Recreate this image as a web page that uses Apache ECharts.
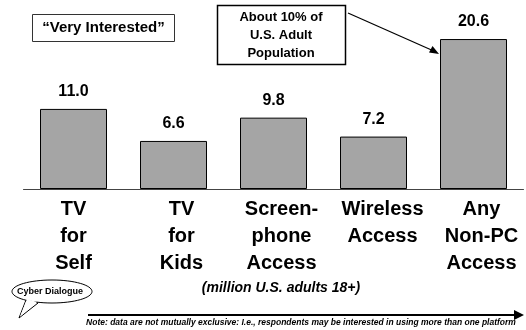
<!DOCTYPE html>
<html>
<head>
<meta charset="utf-8">
<script src="https://cdn.jsdelivr.net/npm/echarts@6/dist/echarts.min.js"></script>
<style>
html,body{margin:0;padding:0;background:#fff;}
#chart{width:526px;height:330px;}
</style>
</head>
<body>
<div id="chart"></div>
<script>
const categories = ['TV\nfor\nSelf', 'TV\nfor\nKids', 'Screen-\nphone\nAccess', 'Wireless\nAccess', 'Any\nNon-PC\nAccess'];
const values = [11.0, 6.6, 9.8, 7.2, 20.6];
const boxLabel = '\u201CVery Interested\u201D';
const calloutLabel = 'About 10% of\nU.S. Adult\nPopulation';
const unitLabel = '(million U.S. adults 18+)';
const noteLabel = 'Note: data are not mutually exclusive: I.e., respondents may be interested in using more than one platform';
const brandLabel = 'Cyber Dialogue';

const FONT = 'Arial, "Liberation Sans", Helvetica, sans-serif';
const labelShift = [0, 8, 8, 9, 8];
const chart = echarts.init(document.getElementById('chart'), null, {renderer: 'canvas'});

chart.setOption({
  animation: false,
  backgroundColor: '#ffffff',
  grid: {left: 23.5, right: 2.5, top: 7, bottom: 141, containLabel: false},
  xAxis: {
    type: 'category',
    data: categories.map((c, i) => ({value: c, textStyle: {padding: [0, 0, 0, labelShift[i] * 2]}})),
    axisLine: {show: true, lineStyle: {color: '#444', width: 1}},
    axisTick: {show: false},
    axisLabel: {
      color: '#000', fontFamily: FONT, fontWeight: 'bold', fontSize: 20,
      lineHeight: 27, margin: 7, interval: 0, verticalAlign: 'top'
    },
    splitLine: {show: false}
  },
  yAxis: {
    type: 'value', min: 0, max: 25, show: false, splitLine: {show: false}
  },
  series: [{
    type: 'bar',
    data: values,
    barWidth: 67,
    itemStyle: {color: '#a5a5a5', borderColor: '#000', borderWidth: 1},
    label: {
      show: true, position: 'top', distance: 9,
      formatter: p => p.value.toFixed(1),
      color: '#000', fontFamily: FONT, fontWeight: 'bold', fontSize: 16
    }
  }],
  graphic: [
    {type: 'rect', shape: {x: 32.5, y: 14.5, width: 142, height: 27}, style: {fill: '#fff', stroke: '#333', lineWidth: 1}},
    {type: 'text', x: 103.5, y: 28, style: {text: boxLabel, fill: '#000', font: 'bold 15px ' + FONT, align: 'center', verticalAlign: 'middle'}},
    {type: 'rect', shape: {x: 217.5, y: 5.5, width: 128, height: 59}, style: {fill: '#fff', stroke: '#000', lineWidth: 1.5}},
    {type: 'text', x: 281, y: 35, style: {text: calloutLabel, fill: '#000', font: 'bold 13px ' + FONT, align: 'center', verticalAlign: 'middle', lineHeight: 18}},
    {type: 'line', shape: {x1: 348, y1: 13, x2: 436, y2: 52}, style: {stroke: '#000', lineWidth: 1.2}},
    {type: 'polygon', shape: {points: [[439, 54], [429, 52.5], [432.5, 46]]}, style: {fill: '#000'}},
    {type: 'text', x: 281, y: 288, style: {text: unitLabel, fill: '#000', font: 'italic bold 14px ' + FONT, align: 'center', verticalAlign: 'middle'}},
    {type: 'line', shape: {x1: 88, y1: 315, x2: 516, y2: 315}, style: {stroke: '#000', lineWidth: 2.2}},
    {type: 'polygon', shape: {points: [[524, 315], [514, 310], [514, 320]]}, style: {fill: '#000'}},
    {type: 'text', x: 301, y: 323, style: {text: noteLabel, fill: '#000', font: 'italic bold 8.5px ' + FONT, align: 'center', verticalAlign: 'middle'}},
    {type: 'polygon', shape: {points: [[26, 300], [19, 318], [38, 303]]}, style: {fill: '#fff', stroke: '#000', lineWidth: 1}},
    {type: 'ellipse', shape: {cx: 52, cy: 291.5, rx: 40, ry: 11.5}, style: {fill: '#fff', stroke: '#000', lineWidth: 1}},
    {type: 'polygon', shape: {points: [[27, 299], [20, 316.5], [37, 302]]}, style: {fill: '#fff', stroke: null}},
    {type: 'text', x: 50, y: 291.5, style: {text: brandLabel, fill: '#000', font: 'bold 9px ' + FONT, align: 'center', verticalAlign: 'middle'}}
  ]
});
</script>
</body>
</html>
